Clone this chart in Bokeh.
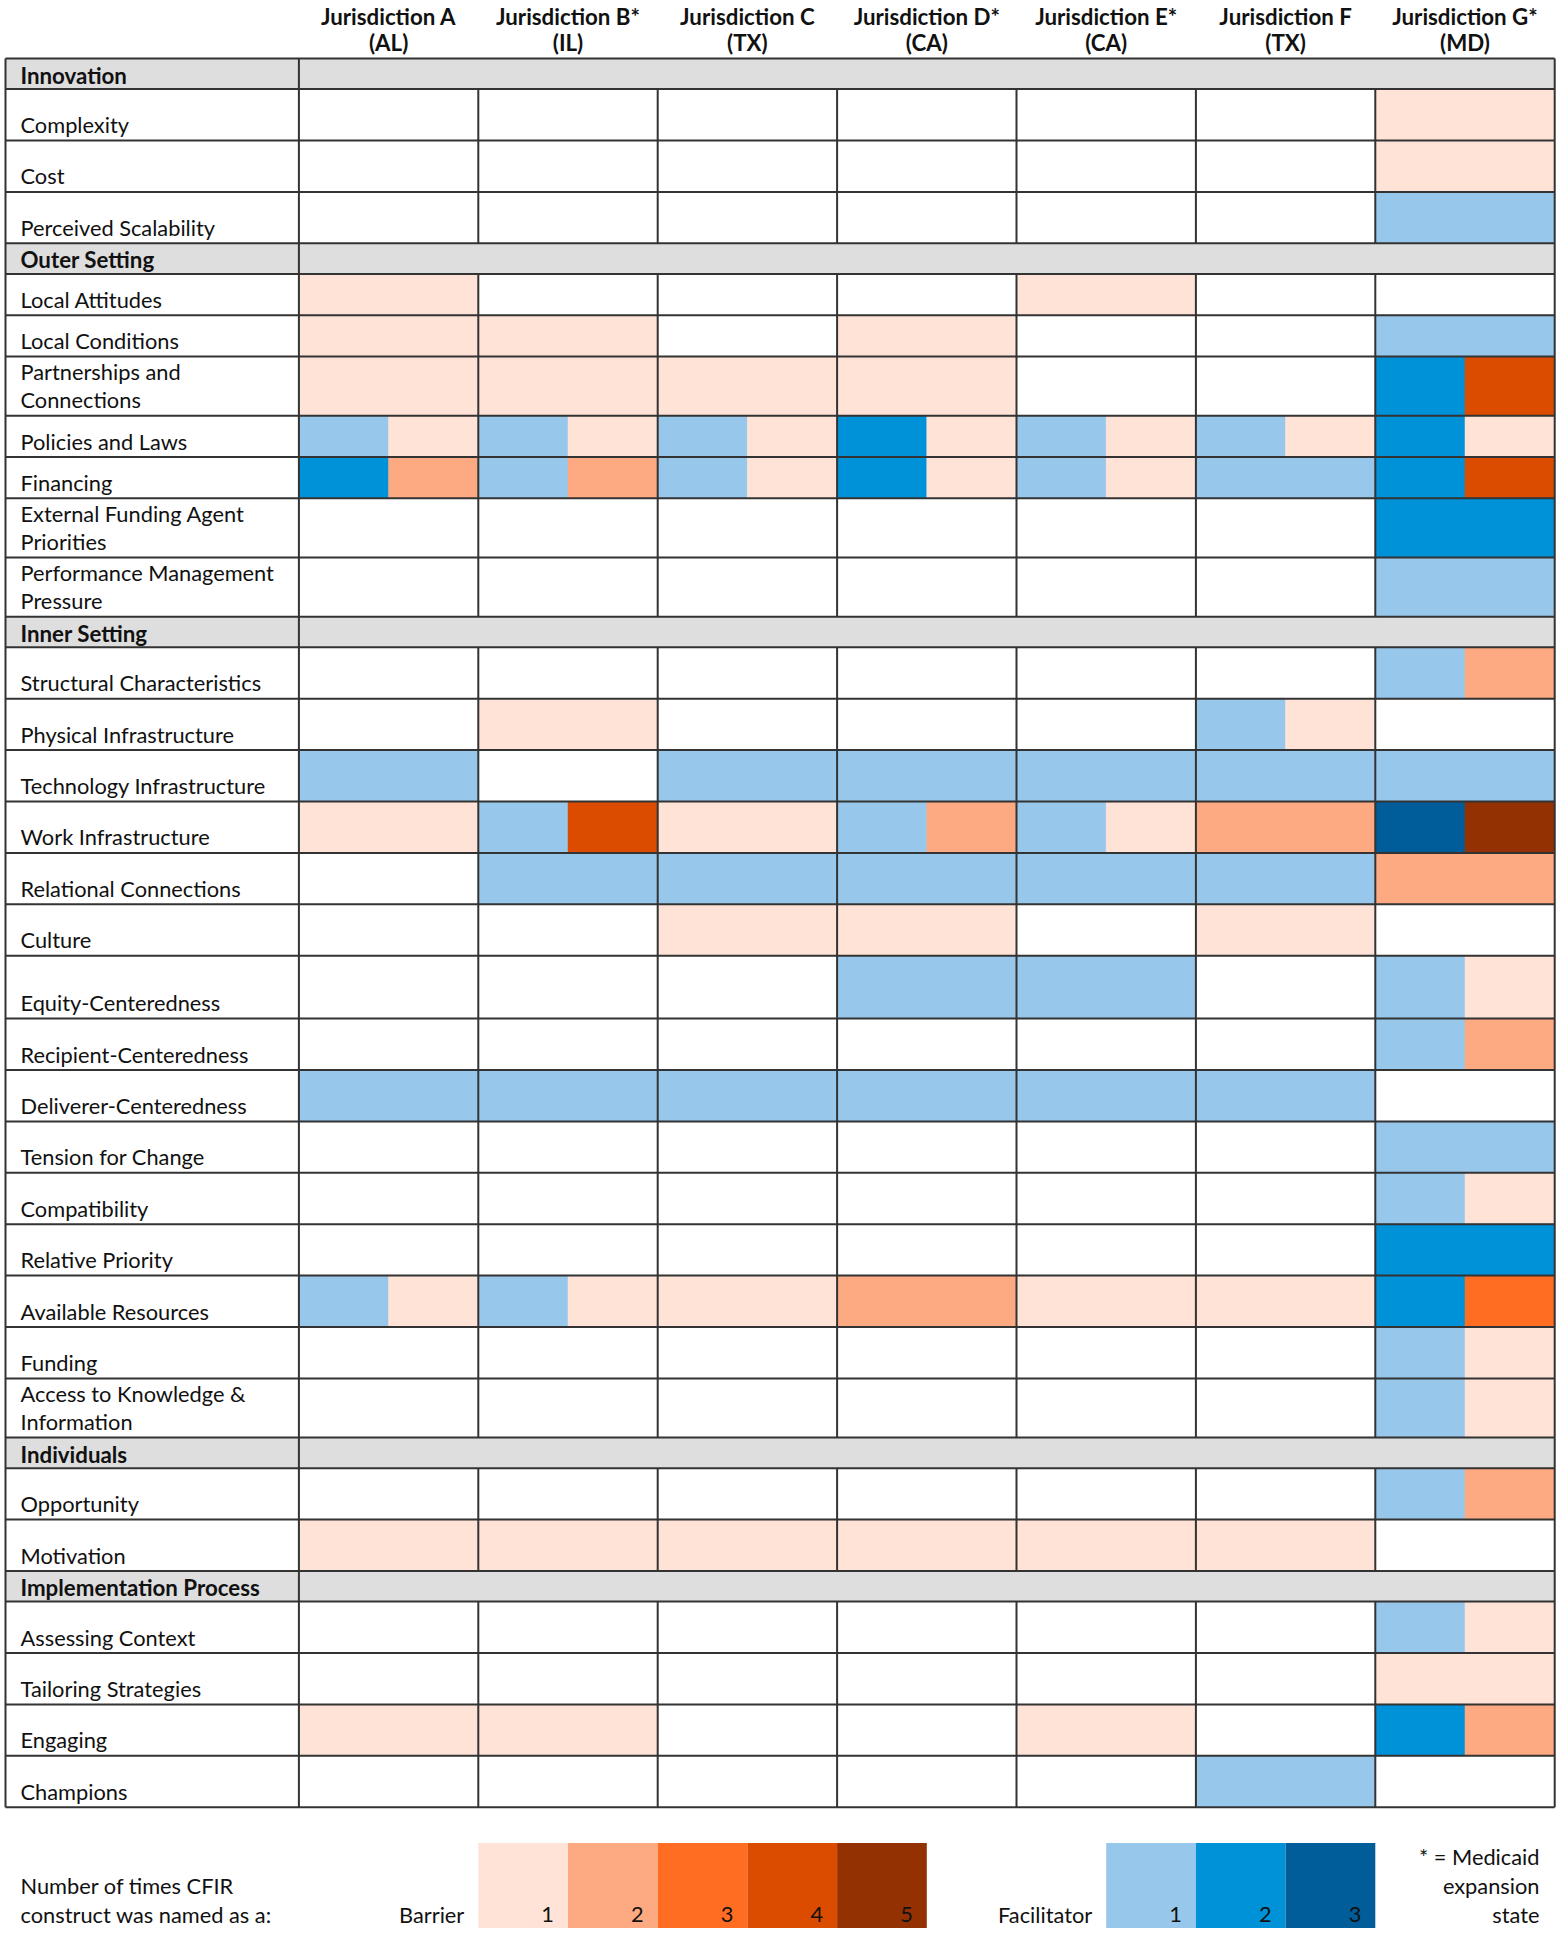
from bokeh.plotting import figure
from bokeh.models import Range1d, ColumnDataSource
from bokeh.core.properties import value
from bokeh.embed import file_html
from bokeh.resources import INLINE

# ---------------- data ----------------
jurisdictions = ["Jurisdiction A", "Jurisdiction B*", "Jurisdiction C", "Jurisdiction D*",
                 "Jurisdiction E*", "Jurisdiction F", "Jurisdiction G*"]
states = ["(AL)", "(IL)", "(TX)", "(CA)", "(CA)", "(TX)", "(MD)"]

domains = ["Innovation", "Outer Setting", "Inner Setting", "Individuals", "Implementation Process"]
domain_sizes = [3, 7, 15, 2, 4]

constructs = [
    "Complexity", "Cost", "Perceived Scalability",
    "Local Attitudes", "Local Conditions", "Partnerships and Connections", "Policies and Laws",
    "Financing", "External Funding Agent Priorities", "Performance Management Pressure",
    "Structural Characteristics", "Physical Infrastructure", "Technology Infrastructure",
    "Work Infrastructure", "Relational Connections", "Culture", "Equity-Centeredness",
    "Recipient-Centeredness", "Deliverer-Centeredness", "Tension for Change", "Compatibility",
    "Relative Priority", "Available Resources", "Funding", "Access to Knowledge & Information",
    "Opportunity", "Motivation",
    "Assessing Context", "Tailoring Strategies", "Engaging", "Champions",
]

# number of times named as a barrier (per jurisdiction, in construct order)
barrier_A = [0, 0, 0, 1, 1, 1, 1, 2, 0, 0, 0, 0, 0, 1, 0, 0, 0, 0, 0, 0, 0, 0, 1, 0, 0, 0, 1, 0, 0, 1, 0]
barrier_B = [0, 0, 0, 0, 1, 1, 1, 2, 0, 0, 0, 1, 0, 4, 0, 0, 0, 0, 0, 0, 0, 0, 1, 0, 0, 0, 1, 0, 0, 1, 0]
barrier_C = [0, 0, 0, 0, 0, 1, 1, 1, 0, 0, 0, 0, 0, 1, 0, 1, 0, 0, 0, 0, 0, 0, 1, 0, 0, 0, 1, 0, 0, 0, 0]
barrier_D = [0, 0, 0, 0, 1, 1, 1, 1, 0, 0, 0, 0, 0, 2, 0, 1, 0, 0, 0, 0, 0, 0, 2, 0, 0, 0, 1, 0, 0, 0, 0]
barrier_E = [0, 0, 0, 1, 0, 0, 1, 1, 0, 0, 0, 0, 0, 1, 0, 0, 0, 0, 0, 0, 0, 0, 1, 0, 0, 0, 1, 0, 0, 1, 0]
barrier_F = [0, 0, 0, 0, 0, 0, 1, 0, 0, 0, 0, 1, 0, 2, 0, 1, 0, 0, 0, 0, 0, 0, 1, 0, 0, 0, 1, 0, 0, 0, 0]
barrier_G = [1, 1, 0, 0, 0, 4, 1, 4, 0, 0, 2, 0, 0, 5, 2, 0, 1, 2, 0, 0, 1, 0, 3, 1, 1, 2, 0, 1, 1, 2, 0]

# number of times named as a facilitator
facil_A = [0, 0, 0, 0, 0, 0, 1, 2, 0, 0, 0, 0, 1, 0, 0, 0, 0, 0, 1, 0, 0, 0, 1, 0, 0, 0, 0, 0, 0, 0, 0]
facil_B = [0, 0, 0, 0, 0, 0, 1, 1, 0, 0, 0, 0, 0, 1, 1, 0, 0, 0, 1, 0, 0, 0, 1, 0, 0, 0, 0, 0, 0, 0, 0]
facil_C = [0, 0, 0, 0, 0, 0, 1, 1, 0, 0, 0, 0, 1, 0, 1, 0, 0, 0, 1, 0, 0, 0, 0, 0, 0, 0, 0, 0, 0, 0, 0]
facil_D = [0, 0, 0, 0, 0, 0, 2, 2, 0, 0, 0, 0, 1, 1, 1, 0, 1, 0, 1, 0, 0, 0, 0, 0, 0, 0, 0, 0, 0, 0, 0]
facil_E = [0, 0, 0, 0, 0, 0, 1, 1, 0, 0, 0, 0, 1, 1, 1, 0, 1, 0, 1, 0, 0, 0, 0, 0, 0, 0, 0, 0, 0, 0, 0]
facil_F = [0, 0, 0, 0, 0, 0, 1, 1, 0, 0, 0, 1, 1, 0, 1, 0, 0, 0, 1, 0, 0, 0, 0, 0, 0, 0, 0, 0, 0, 0, 1]
facil_G = [0, 0, 1, 0, 1, 2, 2, 2, 2, 1, 1, 0, 1, 3, 0, 0, 1, 1, 0, 1, 1, 2, 2, 1, 1, 1, 0, 1, 0, 2, 0]

barriers = [barrier_A, barrier_B, barrier_C, barrier_D, barrier_E, barrier_F, barrier_G]
facilitators = [facil_A, facil_B, facil_C, facil_D, facil_E, facil_F, facil_G]

barrier_levels = ["1", "2", "3", "4", "5"]
facilitator_levels = ["1", "2", "3"]

# ---------------- styles / layout ----------------
BARRIER_COLORS = ["#FEE3D6", "#FDA981", "#FF6D22", "#DC4C00", "#933103"]
FACIL_COLORS = ["#97C8EC", "#0092D8", "#015C9A"]
HEADER_FILL = "#DEDEDE"
LINE_COLOR = "#333333"
TEXT_COLOR = "#111111"
FONT = "Lato"
REG_SIZE = "21.8px"
BOLD_SIZE = "22.3px"
TEXT_DY = -7.5   # baseline correction for the svg text renderer

TABLE_LEFT = 5.0
LABEL_RIGHT = 298.4
COL_W = 179.4
TABLE_TOP = 58.0
HEADER_H = 30.6
ROW_H = 51.4
OUTER_ROW_H = 41.3
TWO_LINE_H = 59.2
TALL_ROW_H = 62.9
WRAP = {
    "Partnerships and Connections": ["Partnerships and", "Connections"],
    "External Funding Agent Priorities": ["External Funding Agent", "Priorities"],
    "Performance Management Pressure": ["Performance Management", "Pressure"],
    "Access to Knowledge & Information": ["Access to Knowledge &", "Information"],
}
TALL_ROWS = {"Equity-Centeredness"}
TABLE_RIGHT = LABEL_RIGHT + COL_W * len(jurisdictions)

p = figure(width=1560, height=1934, output_backend="svg", toolbar_location=None,
           x_range=Range1d(0, 1560), y_range=Range1d(1934, 0),
           min_border=0, outline_line_color=None, background_fill_color="white")
p.axis.visible = False
p.grid.visible = False


def txt(xs, ys, texts, size=REG_SIZE, bold=False, align="left"):
    p.text(x=xs, y=[v + TEXT_DY for v in ys], text=texts, text_font=value(FONT),
           text_font_size=value(size), text_font_style="bold" if bold else "normal",
           text_baseline="alphabetic", text_align=align, text_color=TEXT_COLOR)


# build row structure
rows = []  # (kind, label, top, bottom, construct_index)
y = TABLE_TOP
ci = 0
for d, n in zip(domains, domain_sizes):
    rows.append(("header", d, y, y + HEADER_H, None))
    y += HEADER_H
    for _ in range(n):
        name = constructs[ci]
        if name in WRAP:
            h = TWO_LINE_H
        elif name in TALL_ROWS:
            h = TALL_ROW_H
        elif d == "Outer Setting":
            h = OUTER_ROW_H
        else:
            h = ROW_H
        rows.append(("row", name, y, y + h, ci))
        y += h
        ci += 1
TABLE_BOTTOM = y

# header fills
hdr = [r for r in rows if r[0] == "header"]
p.quad(left=[TABLE_LEFT] * len(hdr), right=[TABLE_RIGHT] * len(hdr),
       top=[r[2] for r in hdr], bottom=[r[3] for r in hdr],
       fill_color=HEADER_FILL, line_color=None)

# cells
L, R, T, B, C = [], [], [], [], []
for kind, name, top, bot, idx in rows:
    if kind != "row":
        continue
    for j in range(len(jurisdictions)):
        f = facilitators[j][idx]
        b = barriers[j][idx]
        x0 = LABEL_RIGHT + j * COL_W
        xm = x0 + COL_W / 2
        x1 = x0 + COL_W
        if f and b:
            L += [x0, xm]; R += [xm, x1]; T += [top, top]; B += [bot, bot]
            C += [FACIL_COLORS[f - 1], BARRIER_COLORS[b - 1]]
        elif f:
            L.append(x0); R.append(x1); T.append(top); B.append(bot); C.append(FACIL_COLORS[f - 1])
        elif b:
            L.append(x0); R.append(x1); T.append(top); B.append(bot); C.append(BARRIER_COLORS[b - 1])
p.quad(source=ColumnDataSource(dict(left=L, right=R, top=T, bottom=B, color=C)),
       left="left", right="right", top="top", bottom="bottom",
       fill_color="color", line_color="color", line_width=0.5)

# grid lines
hx0, hx1, hy = [], [], []
edges = [TABLE_TOP] + [r[3] for r in rows]
for e in edges:
    hx0.append(TABLE_LEFT); hx1.append(TABLE_RIGHT); hy.append(e)
p.segment(x0=hx0, x1=hx1, y0=hy, y1=hy, line_color=LINE_COLOR, line_width=2)
vx, vy0, vy1 = [], [], []
for xv in [TABLE_LEFT, LABEL_RIGHT, TABLE_RIGHT]:
    vx.append(xv); vy0.append(TABLE_TOP); vy1.append(TABLE_BOTTOM)
for kind, name, top, bot, idx in rows:
    if kind == "row":
        for j in range(1, len(jurisdictions)):
            vx.append(LABEL_RIGHT + j * COL_W); vy0.append(top); vy1.append(bot)
p.segment(x0=vx, x1=vx, y0=vy0, y1=vy1, line_color=LINE_COLOR, line_width=2)

# row labels
lx, ly, lt = [], [], []
bx, by, bt = [], [], []
for kind, name, top, bot, idx in rows:
    if kind == "header":
        bx.append(20); by.append(bot - 6.5); bt.append(name)
    else:
        lines = WRAP.get(name, [name])
        for k, line in enumerate(lines):
            lx.append(20); ly.append(bot - 8.5 - 28 * (len(lines) - 1 - k)); lt.append(line)
txt(lx, ly, lt)
txt(bx, by, bt, size=BOLD_SIZE, bold=True)

# column headers
cx = [LABEL_RIGHT + (j + 0.5) * COL_W for j in range(len(jurisdictions))]
txt(cx + cx, [23.5] * len(cx) + [49.5] * len(cx), jurisdictions + states,
    size=BOLD_SIZE, bold=True, align="center")

# legend
LEG_TOP, LEG_BOT = 1842.4, 1927.5
half = COL_W / 2
bar_x0 = LABEL_RIGHT + COL_W
fac_x0 = LABEL_RIGHT + 4.5 * COL_W
p.quad(left=[bar_x0 + k * half for k in range(len(barrier_levels))],
       right=[bar_x0 + (k + 1) * half for k in range(len(barrier_levels))],
       top=LEG_TOP, bottom=LEG_BOT, fill_color=BARRIER_COLORS, line_color=None)
p.quad(left=[fac_x0 + k * half for k in range(len(facilitator_levels))],
       right=[fac_x0 + (k + 1) * half for k in range(len(facilitator_levels))],
       top=LEG_TOP, bottom=LEG_BOT, fill_color=FACIL_COLORS, line_color=None)
nx = [bar_x0 + (k + 1) * half - 14 for k in range(len(barrier_levels))] + \
     [fac_x0 + (k + 1) * half - 14 for k in range(len(facilitator_levels))]
txt(nx, [1921] * len(nx), barrier_levels + facilitator_levels, align="right")
txt([20, 20], [1892, 1921], ["Number of times CFIR", "construct was named as a:"])
txt([bar_x0 - 14, fac_x0 - 14], [1921, 1921], ["Barrier", "Facilitator"], align="right")
txt([1539] * 3, [1863, 1892, 1921], ["* = Medicaid", "expansion", "state"], align="right")

open("out.html", "w").write(file_html(p, INLINE))
